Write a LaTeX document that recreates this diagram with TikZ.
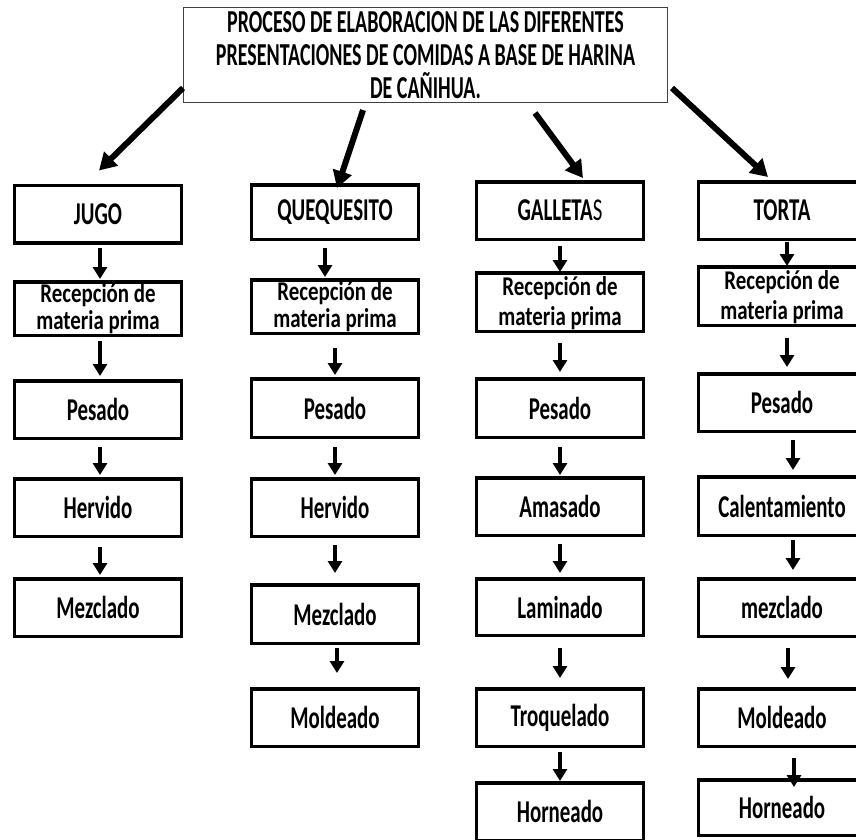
\documentclass[tikz,border=0pt]{standalone}
\usepackage{fontspec}
\usepackage{graphicx}
\setmainfont{Carlito}
\usetikzlibrary{arrows.meta}
\newcommand\stx[1]{\scalebox{1.02}[1.55]{#1}}
\newcommand\srx[1]{\scalebox{1.02}[1.32]{#1}}
\newcommand\sttl[1]{\scalebox{1}[1.6]{#1}}
\newcommand\conn[5]{\draw[sarr] ([xshift=#3pt,yshift=-#4pt]#1.south) -- ([xshift=#3pt,yshift=#5pt]#2.north);}
\begin{document}
\begin{tikzpicture}[x=1pt,y=-1pt,
 box/.style={draw, line width=3.5pt, minimum width=167pt, minimum height=57.5pt, inner sep=0pt, font=\bfseries\fontsize{20.5}{24}\selectfont},
 txt/.style={inner sep=0pt, anchor=base, font=\bfseries\fontsize{20.5}{24}\selectfont},
 ttl/.style={inner sep=0pt, anchor=base, font=\bfseries\fontsize{20}{24}\selectfont},
 titlebox/.style={draw=black!75, line width=1pt, minimum width=484pt, minimum height=95pt, inner sep=0pt},
 sarr/.style={line width=4pt, -{Triangle[length=12pt,width=14pt]}},
 darr/.style={line width=6pt, -{Triangle[length=17pt,width=19pt]}}]
\useasboundingbox (0,0) rectangle (856,839);
\clip (0,0) rectangle (856,839);
\fill[white] (0,0) rectangle (856,839);

% title
\node[titlebox] (title) at (425.5,55) {};
\node[ttl] (tl1) at (425.5,32) {\sttl{PROCESO DE ELABORACION DE LAS DIFERENTES}};
\node[ttl] (tl2) at (425.5,65) {\sttl{PRESENTACIONES DE COMIDAS A BASE DE HARINA}};
\node[ttl] (tl3) at (425.5,98) {\sttl{DE CAÑIHUA.}};

% JUGO column
\node[box] (j1) at (98,214) {\stx{JUGO}};
\node[box, minimum height=53.5pt] (j2) at (98,308.5) {};
\node[txt] (j2a) at ([yshift=6.5pt]j2.center) {\srx{Recepción de}};
\node[txt] (j2b) at ([yshift=-21pt]j2.center) {\srx{materia prima}};
\node[box] (j3) at (98,409.5) {\stx{Pesado}};
\node[box] (j4) at (98,507.5) {\stx{Hervido}};
\node[box] (j5) at (98,607.5) {\stx{Mezclado}};

% QUEQUESITO column
\node[box, minimum height=54.5pt] (q1) at (335,212) {\stx{QUEQUESITO}};
\node[box, minimum height=53.5pt] (q2) at (335,306.5) {};
\node[txt] (q2a) at ([yshift=6.5pt]q2.center) {\srx{Recepción de}};
\node[txt] (q2b) at ([yshift=-21pt]q2.center) {\srx{materia prima}};
\node[box, minimum height=58.5pt] (q3) at (335,408) {\stx{Pesado}};
\node[box] (q4) at (335,507.5) {\stx{Hervido}};
\node[box, minimum height=58.5pt] (q5) at (335,614) {\stx{Mezclado}};
\node[box] (q6) at (335,717.5) {\stx{Moldeado}};

% GALLETAS column
\node[box] (g1) at (560,210.5) {\stx{GALLETA{\mdseries S}}};
\node[box, minimum height=58.5pt] (g2) at (560,302) {};
\node[txt] (g2a) at ([yshift=7pt]g2.center) {\srx{Recepción de}};
\node[txt] (g2b) at ([yshift=-23pt]g2.center) {\srx{materia prima}};
\node[box, minimum height=58.5pt] (g3) at (560,408) {\stx{Pesado}};
\node[box] (g4) at (560,506.5) {\stx{Amasado}};
\node[box, minimum height=56.5pt] (g5) at (560,607) {\stx{Laminado}};
\node[box] (g6) at (560,717.5) {\stx{Troquelado}};
\node[box] (g7) at (560,811.5) {\stx{Horneado}};

% TORTA column
\node[box] (t1) at (782,210.5) {\stx{TORTA}};
\node[box, minimum height=58.5pt] (t2) at (782,296) {};
\node[txt] (t2a) at ([yshift=7pt]t2.center) {\srx{Recepción de}};
\node[txt] (t2b) at ([yshift=-23pt]t2.center) {\srx{materia prima}};
\node[box] (t3) at (782,402.5) {\stx{Pesado}};
\node[box, minimum height=58.5pt] (t4) at (782,506) {\stx{Calentamiento}};
\node[box] (t5) at (782,607.5) {\stx{mezclado}};
\node[box] (t6) at (782,717.5) {\stx{Moldeado}};
\node[box, minimum height=55.5pt] (t7) at (782,807.5) {\stx{Horneado}};

% diagonal arrows from title
\draw[darr] ([yshift=-33pt]title.west) -- ([xshift=1pt,yshift=13pt]j1.north);
\draw[darr] ([xshift=-62.5pt,yshift=-7pt]title.south) -- ([xshift=2pt,yshift=-5pt]q1.north);
\draw[darr] ([xshift=109.5pt,yshift=-10pt]title.south) -- ([xshift=23pt,yshift=2pt]g1.north);
\draw[darr] ([xshift=4pt,yshift=-33pt]title.east) -- ([xshift=-14pt,yshift=3pt]t1.north);

% vertical arrows
\conn{j1}{j2}{2}{3}{1}
\conn{j2}{j3}{2}{4}{3}
\conn{j3}{j4}{2}{7}{2}
\conn{j4}{j5}{2}{9}{2}
\conn{q1}{q2}{-10}{7}{1}
\conn{q2}{q3}{0}{13}{2}
\conn{q3}{q4}{0}{8}{2}
\conn{q4}{q5}{0}{7}{10}
\conn{q5}{q6}{2}{3}{14}
\conn{g1}{g2}{0}{5}{-1}
\conn{g2}{g3}{0}{10}{5}
\conn{g3}{g4}{0}{8}{1}
\conn{g4}{g5}{0}{7}{4}
\conn{g5}{g6}{0}{11}{9}
\conn{g6}{g7}{0}{4}{0}
\conn{t1}{t2}{5}{1}{-1}
\conn{t2}{t3}{5}{11}{5}
\conn{t3}{t4}{11}{7}{5}
\conn{t4}{t5}{11}{3}{7}
\conn{t5}{t6}{6}{10}{8}
\conn{t6}{t7}{12}{10}{-9}
\end{tikzpicture}
\end{document}
